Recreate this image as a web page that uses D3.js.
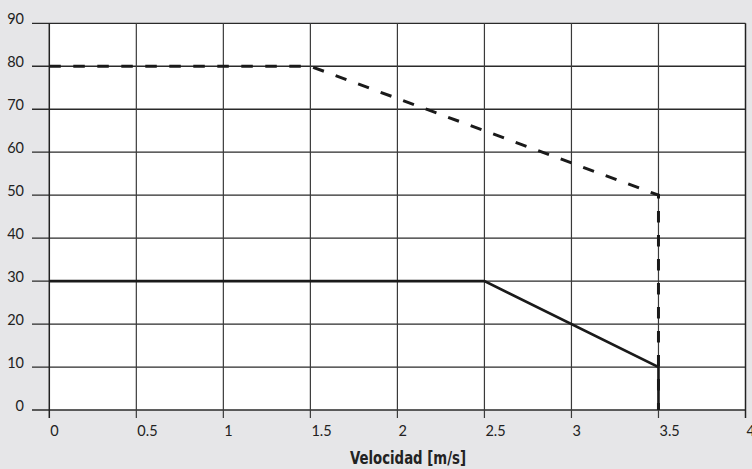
<!DOCTYPE html>
<html><head><meta charset="utf-8">
<script src="https://cdn.jsdelivr.net/npm/d3@7"></script>
<style>
html,body{margin:0;padding:0;background:#e6e6e8;}
svg{display:block;}
</style></head>
<body><svg id="c" width="752" height="469"></svg>
<script>
const xTicks = [0, 0.5, 1, 1.5, 2, 2.5, 3, 3.5, 4];
const xTickLabels = ["0", "0.5", "1", "1.5", "2", "2.5", "3", "3.5", "4"];
const yTicks = [0, 10, 20, 30, 40, 50, 60, 70, 80, 90];
const dashedX = [0, 1.5, 3.5, 3.5];
const dashedY = [80, 80, 50, 0];
const solidX = [0, 2.5, 3.5, 3.5];
const solidY = [30, 30, 10, 0];
const xTitle = "Velocidad [m/s]";

const svg = d3.select("#c");
const x = d3.scaleLinear().domain([0, 4]).range([49.3, 745.5]);
const y = d3.scaleLinear().domain([0, 90]).range([410, 23.3]);

svg.append("rect").attr("width", 752).attr("height", 469).attr("fill", "#e6e6e8");
svg.append("rect").attr("x", x(0)).attr("y", y(90)).attr("width", x(4) - x(0)).attr("height", y(0) - y(90)).attr("fill", "#fff");

// horizontal grid + left ticks
svg.append("g").selectAll("line").data(yTicks).join("line")
  .attr("x1", 32).attr("x2", x(4))
  .attr("y1", d => y(d)).attr("y2", d => y(d))
  .attr("stroke", "#2a2a2a").attr("stroke-width", 1.3);
// vertical grid + bottom ticks
svg.append("g").selectAll("line").data(xTicks).join("line")
  .attr("x1", d => x(d)).attr("x2", d => x(d))
  .attr("y1", y(90)).attr("y2", y(0) + 8)
  .attr("stroke", d => (d === 0 || d === 4) ? "#222" : "#3a3a3a").attr("stroke-width", d => (d === 0 || d === 4) ? 1.5 : 1.2);

// y labels
svg.append("g").selectAll("text").data(yTicks).join("text")
  .attr("x", 24).attr("y", d => y(d) + 1)
  .attr("text-anchor", "end")
  .attr("font-family", "Lato, 'DejaVu Sans', sans-serif").attr("font-size", 14.5).attr("fill", "#222")
  .text(d => d);
// x labels
svg.append("g").selectAll("text").data(xTicks).join("text")
  .attr("x", d => x(d) + 1).attr("y", 435.5)
  .attr("text-anchor", "start")
  .attr("font-family", "Lato, 'DejaVu Sans', sans-serif").attr("font-size", 14.5).attr("fill", "#222")
  .text((d, i) => xTickLabels[i]);

// title
svg.append("text").attr("x", 408).attr("y", 464)
  .attr("text-anchor", "middle")
  .attr("font-family", "'DejaVu Sans', sans-serif").attr("font-stretch", "condensed")
  .attr("font-weight", "bold").attr("font-size", 18).attr("fill", "#222")
  .attr("textLength", 116).attr("lengthAdjust", "spacingAndGlyphs")
  .text(xTitle);

const line = d3.line().x(d => x(d[0])).y(d => y(d[1]));
svg.append("path").datum(dashedX.map((v, i) => [v, dashedY[i]]))
  .attr("d", line).attr("fill", "none").attr("stroke", "#1a1a1a")
  .attr("stroke-width", 3).attr("stroke-dasharray", "11.5,12.5");
svg.append("path").datum(solidX.map((v, i) => [v, solidY[i]]))
  .attr("d", line).attr("fill", "none").attr("stroke", "#1a1a1a")
  .attr("stroke-width", 2.6).attr("stroke-linejoin", "miter");
</script></body></html>
